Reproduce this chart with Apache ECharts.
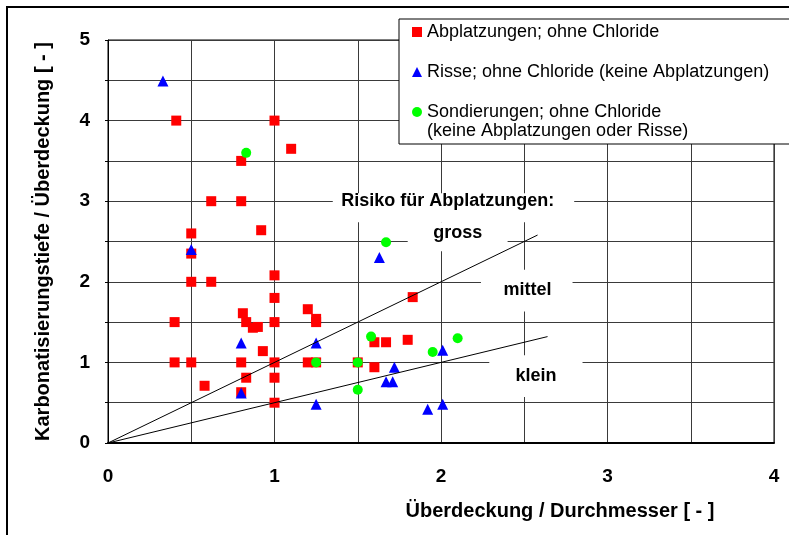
<!DOCTYPE html>
<html>
<head>
<meta charset="utf-8">
<script src="https://cdn.jsdelivr.net/npm/echarts@6/dist/echarts.min.js"></script>
<style>
  html, body { margin: 0; padding: 0; background: #ffffff; }
  #chart { width: 789px; height: 535px; }
</style>
</head>
<body>
<div id="chart"></div>
<script>
const FONT = '"Liberation Sans", Arial, sans-serif';

// Axis ranges and titles
const xTitle = 'Überdeckung / Durchmesser [ - ]';
const yTitle = 'Karbonatisierungstiefe / Überdeckung [ - ]';
const xRange = [0, 4];
const yRange = [0, 5];
const gridStep = 0.5;

// Series names (legend)
const nameAbpl = 'Abplatzungen; ohne Chloride';
const nameRisse = 'Risse; ohne Chloride (keine Abplatzungen)';
const nameSond = 'Sondierungen; ohne Chloride';
const nameSondLine2 = '(keine Abplatzungen oder Risse)';

// Measurements: [Überdeckung/Durchmesser, Karbonatisierungstiefe/Überdeckung]
const abplatzungen = [
  [0.41, 4.00], [1.00, 4.00], [1.10, 3.65], [0.80, 3.50], [0.62, 3.00],
  [0.80, 3.00], [0.92, 2.64], [0.50, 2.60], [0.50, 2.35], [1.00, 2.08],
  [0.50, 2.00], [0.62, 2.00], [1.00, 1.80], [1.83, 1.81], [0.81, 1.61],
  [1.20, 1.66], [1.25, 1.54], [1.25, 1.50], [0.40, 1.50], [0.83, 1.50],
  [0.87, 1.43], [0.90, 1.44], [1.00, 1.50], [0.93, 1.14], [0.40, 1.00],
  [0.50, 1.00], [0.80, 1.00], [1.00, 1.00], [1.20, 1.00], [1.25, 1.00],
  [0.83, 0.81], [0.58, 0.71], [1.00, 0.81], [0.80, 0.63], [1.00, 0.50],
  [1.60, 1.25], [1.67, 1.25], [1.80, 1.28], [1.60, 0.94], [1.50, 1.00]
];
const risse = [
  [0.33, 4.49], [0.50, 2.40], [0.80, 1.24], [1.25, 1.24], [0.80, 0.62],
  [1.25, 0.48], [1.63, 2.30], [2.01, 1.15], [1.72, 0.94], [1.67, 0.76],
  [1.71, 0.76], [1.92, 0.42], [2.01, 0.48]
];
const sondierungen = [
  [0.83, 3.60], [1.67, 2.49], [1.58, 1.32], [2.10, 1.30], [1.95, 1.13],
  [1.50, 1.00], [1.25, 1.00], [1.50, 0.66]
];

// Risk boundaries through the origin
const grenzeGrossMittel = [[0, 0], [2.58, 2.58]];
const grenzeMittelKlein = [[0, 0], [2.64, 1.32]];

// Risk zone captions: text, text centre and white backing box [x0, y0, x1, y1] in axis units
const riskLabels = [
  { text: 'Risiko für Abplatzungen:', at: [2.04, 3.00], box: [1.35, 2.74, 2.80, 3.10] },
  { text: 'gross', at: [2.10, 2.61], box: [1.80, 2.38, 2.40, 2.74] },
  { text: 'mittel', at: [2.52, 1.90], box: [2.24, 1.63, 2.79, 2.15] },
  { text: 'klein', at: [2.57, 0.83], box: [2.29, 0.57, 2.85, 1.09] }
];

const chart = echarts.init(document.getElementById('chart'), null, { renderer: 'canvas' });

const intLabel = v => (Math.abs(v - Math.round(v)) < 1e-9 ? String(Math.round(v)) : '');

chart.setOption({
  animation: false,
  backgroundColor: '#ffffff',
  textStyle: { fontFamily: FONT },
  grid: {
    left: 108, right: 15, top: 40, bottom: 92,
    show: true, borderColor: '#000000', borderWidth: 1, backgroundColor: 'transparent'
  },
  legend: {
    orient: 'vertical',
    left: 399, top: 19,
    padding: [3, 22, 22, 13],
    itemWidth: 10, itemHeight: 10, itemGap: 20,
    backgroundColor: '#ffffff',
    borderColor: '#000000', borderWidth: 1,
    textStyle: { fontFamily: FONT, fontSize: 18, lineHeight: 20, color: '#000000' },
    data: [nameAbpl, nameRisse, nameSond]
  },
  xAxis: {
    type: 'value', min: xRange[0], max: xRange[1], interval: gridStep,
    axisLine: { show: true, onZero: false, lineStyle: { color: '#000000', width: 2 } },
    axisTick: { show: false },
    axisLabel: { formatter: intLabel, margin: 24, fontSize: 19, fontWeight: 'bold', color: '#000000', fontFamily: FONT },
    splitLine: { show: true, lineStyle: { color: '#3a3a3a', width: 1 } }
  },
  yAxis: {
    type: 'value', min: yRange[0], max: yRange[1], interval: gridStep,
    name: yTitle, nameLocation: 'middle', nameGap: 55,
    nameTextStyle: { fontSize: 20, fontWeight: 'bold', color: '#000000', fontFamily: FONT },
    axisLine: { show: true, onZero: false, lineStyle: { color: '#000000', width: 1 } },
    axisTick: { show: true, length: 3, lineStyle: { color: '#000000' } },
    axisLabel: { formatter: intLabel, margin: 18, fontSize: 19, fontWeight: 'bold', color: '#000000', fontFamily: FONT },
    splitLine: { show: true, lineStyle: { color: '#3a3a3a', width: 1 } }
  },
  series: [
    {
      name: nameAbpl, type: 'scatter', data: abplatzungen, z: 3,
      symbol: 'rect', symbolSize: 10, itemStyle: { color: '#ff0000', opacity: 1 }
    },
    {
      name: nameRisse, type: 'scatter', data: risse, z: 4,
      symbol: 'triangle', symbolSize: 11, itemStyle: { color: '#0000ff', opacity: 1 }
    },
    {
      name: nameSond, type: 'scatter', data: sondierungen, z: 5,
      symbol: 'circle', symbolSize: 10, itemStyle: { color: '#00ff00', opacity: 1 }
    },
    {
      name: 'grenze-gross-mittel', type: 'line', data: grenzeGrossMittel, z: 6,
      showSymbol: false, symbol: 'none', silent: true,
      lineStyle: { color: '#000000', width: 1 }
    },
    {
      name: 'grenze-mittel-klein', type: 'line', data: grenzeMittelKlein, z: 6,
      showSymbol: false, symbol: 'none', silent: true,
      lineStyle: { color: '#000000', width: 1 }
    }
  ]
});

// Captions, legend continuation line, x title and outer frame
function buildGraphics() {
  const els = [];
  riskLabels.forEach(l => {
    const p0 = chart.convertToPixel({ gridIndex: 0 }, [l.box[0], l.box[3]]);
    const p1 = chart.convertToPixel({ gridIndex: 0 }, [l.box[2], l.box[1]]);
    els.push({
      type: 'rect', z: 1, silent: true,
      shape: { x: p0[0], y: p0[1], width: p1[0] - p0[0], height: p1[1] - p0[1] },
      style: { fill: '#ffffff' }
    });
    const c = chart.convertToPixel({ gridIndex: 0 }, l.at);
    els.push({
      type: 'text', z: 2, silent: true, x: c[0], y: c[1],
      style: {
        text: l.text, fill: '#000000', font: 'bold 18px ' + FONT,
        align: 'center', verticalAlign: 'middle'
      }
    });
  });
  els.push({
    type: 'text', z: 100, zlevel: 0, silent: true, x: 427, y: 131,
    style: { text: nameSondLine2, fill: '#000000', font: '18px ' + FONT, align: 'left', verticalAlign: 'middle' }
  });
  els.push({
    type: 'text', z: 1, silent: true, x: 560, y: 511,
    style: { text: xTitle, fill: '#000000', font: 'bold 20px ' + FONT, align: 'center', verticalAlign: 'middle' }
  });
  els.push({
    type: 'polyline', z: 1, silent: true,
    shape: { points: [[7, 560], [7, 7], [820, 7]] },
    style: { stroke: '#000000', lineWidth: 2, fill: null }
  });
  chart.setOption({ graphic: { elements: els } });
}
buildGraphics();
</script>
</body>
</html>
